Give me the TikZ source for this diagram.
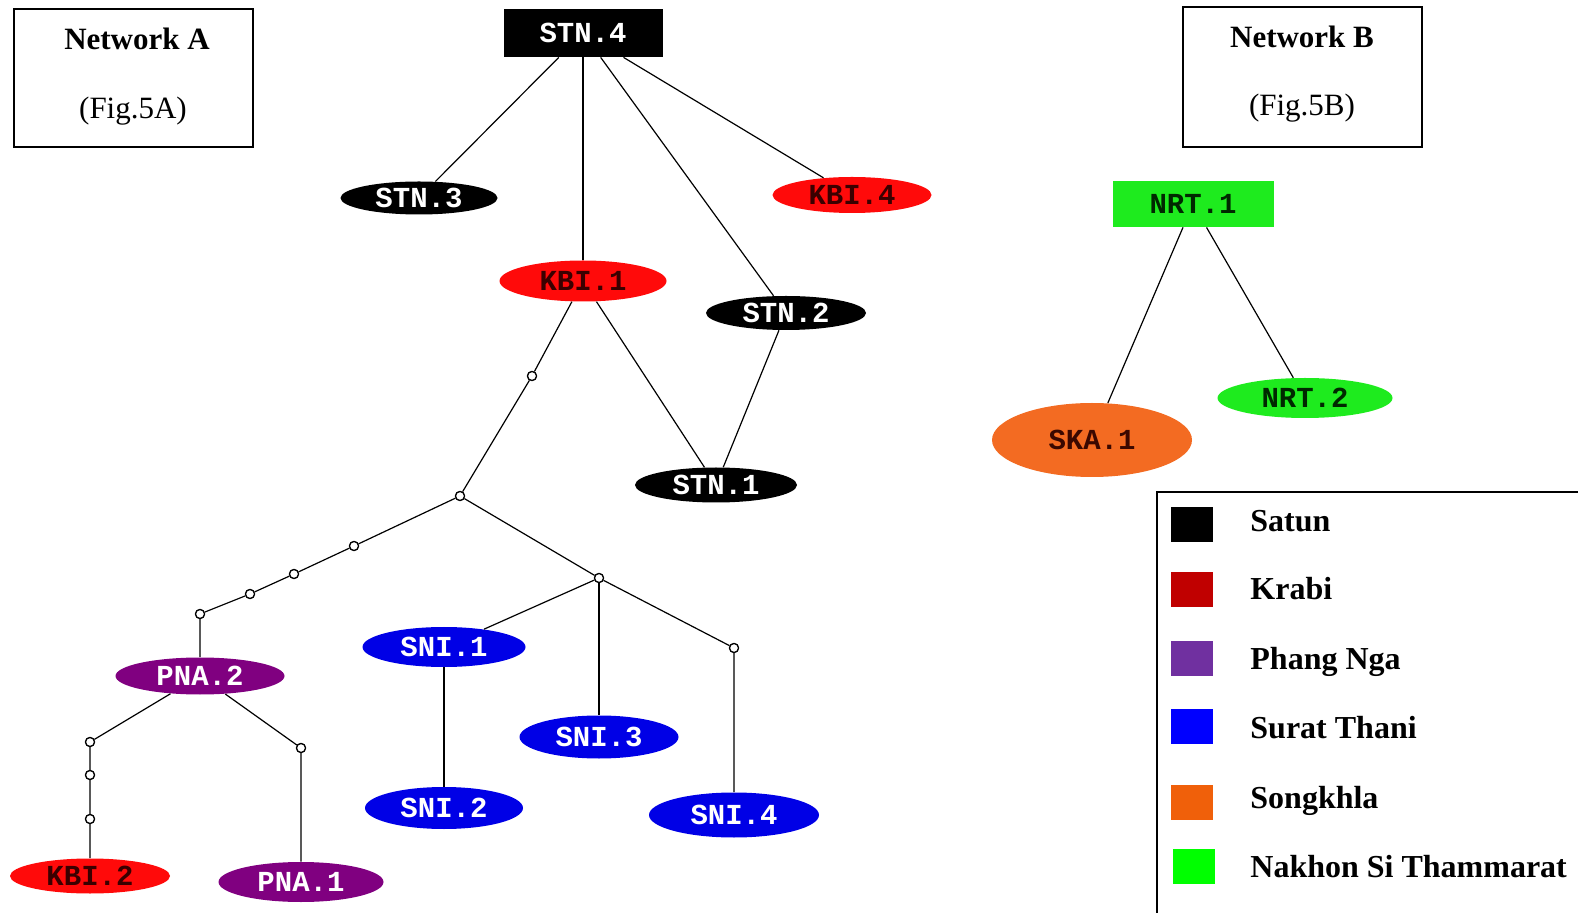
\documentclass[tikz,border=0pt]{standalone}
\usepackage{fontspec}
\setmainfont{Liberation Serif}
\newfontfamily\monofam{Liberation Mono}
\usetikzlibrary{shapes.geometric}

\definecolor{kbired}{HTML}{FF0A0A}
\definecolor{kbitext}{HTML}{3A0000}
\definecolor{pnapurple}{HTML}{800080}
\definecolor{sniblue}{HTML}{0000E6}
\definecolor{skaorange}{HTML}{F36B22}
\definecolor{skatext}{HTML}{3A0800}
\definecolor{nrtgreen}{HTML}{1EEB1E}
\definecolor{nrttext}{HTML}{002800}
\definecolor{legkrabi}{HTML}{C00000}
\definecolor{legphang}{HTML}{7030A0}
\definecolor{legsurat}{HTML}{0000FF}
\definecolor{legsong}{HTML}{F0600A}
\definecolor{legnrt}{HTML}{00FF00}

\newcommand\labfont{\monofam\bfseries\fontsize{14.5}{18}\selectfont}

\begin{document}
\begin{tikzpicture}[x=0.5pt,y=-0.5pt,
  lab/.style={font=\labfont},
  oval/.style={ellipse, inner sep=0pt, lab},
  boxnode/.style={rectangle, inner sep=0pt, lab},
  jn/.style={circle, draw=black, fill=white, inner sep=0pt, minimum size=4.5pt, line width=0.6pt},
  link/.style={line width=0.6pt, black},
  frame/.style={draw=black, line width=0.8pt},
  title/.style={font=\fontsize{15.5}{18}\selectfont, anchor=base, inner sep=0pt},
  legtext/.style={font=\bfseries\fontsize{16}{19}\selectfont, anchor=base west, inner sep=0pt},
  swatch/.style={inner sep=0pt, minimum width=21pt, minimum height=17.5pt}
]
\useasboundingbox (0,0) rectangle (1578,913);

% ---- title boxes ----
\draw[frame] (14,9) rectangle (253,147);
\node[title] (ta) at (137,50) {\textbf{Network A}};
\node[title] (tfa) at (133,119) {(Fig.5A)};
\draw[frame] (1183,7) rectangle (1422,147);
\node[title] (tb) at (1302,48) {\textbf{Network B}};
\node[title] (tfb) at (1302,116) {(Fig.5B)};

% ---- Network A nodes ----
\node[boxnode, fill=black, text=white, minimum width=79.5pt, minimum height=24pt] (stn4) at (583,33) {STN.4};
\node[oval, fill=black, text=white, minimum width=78.5pt, minimum height=16.5pt] (stn3) at (419,198) {STN.3};
\node[oval, fill=kbired, text=kbitext, minimum width=79.5pt, minimum height=18pt] (kbi4) at (852,195) {KBI.4};
\node[oval, fill=kbired, text=kbitext, minimum width=83.5pt, minimum height=20.5pt] (kbi1) at (583,281) {KBI.1};
\node[oval, fill=black, text=white, minimum width=80pt, minimum height=17pt] (stn2) at (786,313) {STN.2};
\node[oval, fill=black, text=white, minimum width=81pt, minimum height=17.5pt] (stn1) at (716,485) {STN.1};
\node[oval, fill=pnapurple, text=white, minimum width=84.5pt, minimum height=18.5pt] (pna2) at (200,676) {PNA.2};
\node[oval, fill=kbired, text=kbitext, minimum width=80pt, minimum height=17.5pt] (kbi2) at (90,876) {KBI.2};
\node[oval, fill=pnapurple, text=white, minimum width=82.5pt, minimum height=20pt] (pna1) at (301,882) {PNA.1};
\node[oval, fill=sniblue, text=white, minimum width=81.5pt, minimum height=20pt] (sni1) at (444,647) {SNI.1};
\node[oval, fill=sniblue, text=white, minimum width=79.5pt, minimum height=21.5pt] (sni3) at (599,737) {SNI.3};
\node[oval, fill=sniblue, text=white, minimum width=79pt, minimum height=21pt] (sni2) at (444,808) {SNI.2};
\node[oval, fill=sniblue, text=white, minimum width=85pt, minimum height=22.5pt] (sni4) at (734,815) {SNI.4};

% ---- median vectors (junctions) ----
\node[jn] (j1) at (532,376) {};
\node[jn] (j2) at (460,496) {};
\node[jn] (l1) at (354,546) {};
\node[jn] (l2) at (294,574) {};
\node[jn] (l3) at (250,594) {};
\node[jn] (l4) at (200,614) {};
\node[jn] (r1) at (599,578) {};
\node[jn] (r2) at (734,648) {};
\node[jn] (p1) at (90,742) {};
\node[jn] (p2) at (90,775) {};
\node[jn] (p3) at (90,819) {};
\node[jn] (p4) at (301,748) {};

% ---- Network A links ----
\draw[link] (stn4) -- (stn3);
\draw[link] (stn4) -- (kbi1);
\draw[link] (stn4) -- (stn2);
\draw[link] (stn4) -- (kbi4);
\draw[link] (kbi1) -- (stn1);
\draw[link] (stn2) -- (stn1);
\draw[link] (kbi1) -- (j1) -- (j2);
\draw[link] (j2) -- (l1) -- (l2) -- (l3) -- (l4) -- (pna2);
\draw[link] (j2) -- (r1);
\draw[link] (r1) -- (sni1);
\draw[link] (r1) -- (sni3);
\draw[link] (r1) -- (r2) -- (sni4);
\draw[link] (sni1) -- (sni2);
\draw[link] (pna2) -- (p1) -- (p2) -- (p3) -- (kbi2);
\draw[link] (pna2) -- (p4) -- (pna1);
% redraw junctions over the links
\foreach \j in {j1,j2,l1,l2,l3,l4,r1,r2,p1,p2,p3,p4}
  \draw[line width=0.6pt, fill=white] (\j) circle (2.25pt);

% ---- Network B ----
\node[boxnode, fill=nrtgreen, text=nrttext, minimum width=80.5pt, minimum height=23pt] (nrt1) at (1193,204) {NRT.1};
\node[oval, fill=nrtgreen, text=nrttext, minimum width=87.5pt, minimum height=20pt] (nrt2) at (1305,398) {NRT.2};
\node[oval, fill=skaorange, text=skatext, minimum width=100pt, minimum height=37pt] (ska1) at (1092,440) {SKA.1};
\draw[link] (nrt1) -- (ska1);
\draw[link] (nrt1) -- (nrt2);

% ---- legend ----
\draw[frame] (1157,913) -- (1157,492) -- (1578,492);
\node[swatch, fill=black] (sw1) at (1192,524.5) {};
\node[swatch, fill=legkrabi] (sw2) at (1192,590) {};
\node[swatch, fill=legphang] (sw3) at (1192,658.5) {};
\node[swatch, fill=legsurat] (sw4) at (1192,726) {};
\node[swatch, fill=legsong] (sw5) at (1192,802) {};
\node[swatch, fill=legnrt] (sw6) at (1193.5,866) {};
\node[legtext] (lg1) at (1250,532) {Satun};
\node[legtext] (lg2) at (1250,600) {Krabi};
\node[legtext] (lg3) at (1250,669) {Phang Nga};
\node[legtext] (lg4) at (1250,738) {Surat Thani};
\node[legtext] (lg5) at (1250,808) {Songkhla};
\node[legtext] (lg6) at (1250,877) {Nakhon Si Thammarat};
\end{tikzpicture}
\end{document}
